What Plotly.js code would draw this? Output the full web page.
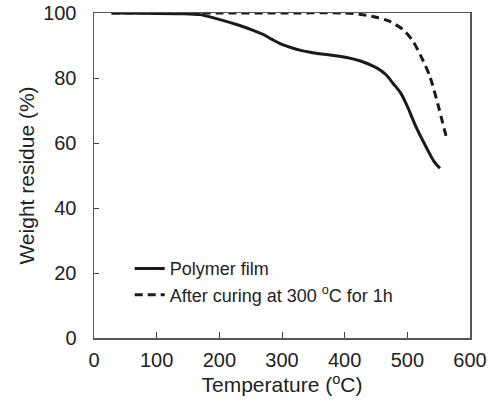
<!DOCTYPE html>
<html><head><meta charset="utf-8">
<script src="https://cdn.plot.ly/plotly-3.0.1.min.js"></script>
<style>html,body{margin:0;padding:0;background:#fff}#chart{width:496px;height:403px}</style>
</head><body><div id="chart"></div>
<script>
const filmT = [28, 80, 140, 169, 191, 230, 255, 270, 284, 298, 314, 330, 349, 403, 424, 451, 466, 477, 489, 499, 515, 531, 542, 552];
const filmW = [100, 99.9, 99.8, 99.5, 98.5, 96.3, 94.6, 93.4, 91.9, 90.5, 89.4, 88.5, 87.8, 86.3, 85.3, 83.1, 81, 78.4, 75.5, 71.7, 64.5, 58.4, 54.5, 52.2];
const curedT = [28, 100, 200, 300, 400, 424, 450, 472, 493, 509, 522, 536, 549, 556, 563];
const curedW = [100, 100, 100, 100, 100, 99.6, 98.7, 97.4, 94.9, 91.3, 86.6, 80.5, 71.7, 66.5, 61.2];
const names = ['Polymer film', 'After curing at 300 <sup>o</sup>C for 1h'];
const xTicks = [0, 100, 200, 300, 400, 500, 600];
const yTicks = [0, 20, 40, 60, 80, 100];

const traces = [
  {x: filmT, y: filmW, name: names[0], mode: 'lines', line: {color: '#1a1a1a', width: 3, shape: 'spline', smoothing: 0.8}},
  {x: curedT, y: curedW, name: names[1], mode: 'lines', line: {color: '#1a1a1a', width: 3, dash: '8px,5px', shape: 'spline', smoothing: 0.8}}
];
const fam = 'Liberation Sans, Arial, sans-serif';
const layout = {
  width: 496, height: 403,
  margin: {l: 94, r: 26, t: 13, b: 65},
  paper_bgcolor: '#fff', plot_bgcolor: '#fff',
  font: {family: fam, size: 20, color: '#222'},
  showlegend: true,
  legend: {x: 0.095, y: 0.27, xanchor: 'left', yanchor: 'top', bgcolor: 'rgba(0,0,0,0)',
           font: {family: fam, size: 18, color: '#222'}, tracegroupgap: 0, itemwidth: 30},
  xaxis: {range: [0, 600], tickvals: xTicks, ticks: 'inside', ticklen: 6, tickcolor: '#444', showgrid: false, zeroline: false,
          showline: true, linecolor: '#555', linewidth: 1.5, mirror: true, tickfont: {size: 20}, ticklabelstandoff: 3,
          title: {text: 'Temperature (<sup>o</sup>C)', font: {size: 21}, standoff: 8}},
  yaxis: {range: [0, 100], tickvals: yTicks, ticks: 'inside', ticklen: 5, tickcolor: '#444', showgrid: false, zeroline: false,
          showline: true, linecolor: '#555', linewidth: 1.5, mirror: true, tickfont: {size: 20}, ticklabelstandoff: 12,
          title: {text: 'Weight residue (%)', font: {size: 21}, standoff: 3}}
};
Plotly.newPlot('chart', traces, layout, {staticPlot: true});
</script></body></html>
